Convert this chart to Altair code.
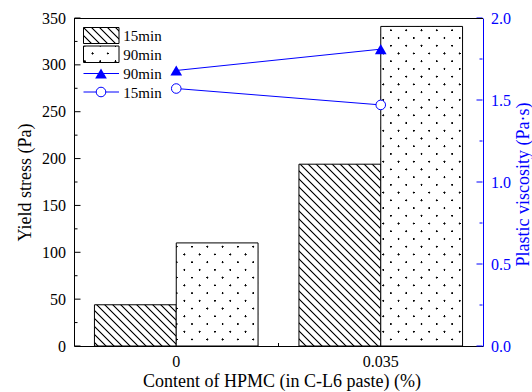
import math

import altair as alt
import pandas as pd

# ---- data -----------------------------------------------------------------
categories = ["0", "0.035"]
bar_series = ["15min", "90min"]
yield_15min = [44, 194]
yield_90min = [110, 341]
visc_90min = [1.68, 1.81]
visc_15min = [1.57, 1.47]

left_major = [0, 50, 100, 150, 200, 250, 300, 350]
left_minor = [25, 75, 125, 175, 225, 275, 325]
right_major = [0.0, 0.5, 1.0, 1.5, 2.0]
right_minor = [0.25, 0.75, 1.25, 1.75]

# ---- layout / style -------------------------------------------------------
W, H = 409, 328
PAD = {"left": 74, "top": 18, "right": 532 - 74 - W, "bottom": 392 - 18 - H}
Y_MAX, V_MAX = 350, 2.0
PAD_IN, PAD_OUT = 0.2, 0.1
FONT = "Liberation Serif"
BLUE = "#0000ff"

bars = pd.DataFrame({
    "content": categories * 2,
    "series": [bar_series[0]] * 2 + [bar_series[1]] * 2,
    "yield": yield_15min + yield_90min,
})
lines = pd.DataFrame({
    "content": categories * 2,
    "series": ["90min"] * 2 + ["15min"] * 2,
    "visc": visc_90min + visc_15min,
})


# ---- fill patterns built as striped linear gradients ----------------------
def pattern_fill(box, normal, period, anchor, profile, color_of):
    """Linear gradient (bounding-box units) that draws parallel stripes with
    the given pixel normal and period over a box of known pixel size."""
    x0, y0, w, h = box
    nx, ny = normal
    ax, ay = anchor
    corners = [(0, 0), (1, 0), (0, 1), (1, 1)]
    fvals = [(x0 + u * w - ax) * nx + (y0 + v * h - ay) * ny for u, v in corners]
    fmin, fmax = min(fvals), max(fvals)
    su, sv = corners[fvals.index(fmin)]
    span = fmax - fmin
    k = span / ((w * nx) ** 2 + (h * ny) ** 2)
    pts = []
    for m in range(math.floor(fmin / period) - 1, math.ceil(fmax / period) + 2):
        c = m * period
        pts += [(c + d, a) for d, a in profile]

    def alpha_at(fv):
        for (f1, a1), (f2, a2) in zip(pts, pts[1:]):
            if f1 <= fv <= f2:
                return a1 if f2 == f1 else a1 + (a2 - a1) * (fv - f1) / (f2 - f1)
        return 0.0

    seq = [(fmin, alpha_at(fmin))] + [p for p in pts if fmin < p[0] < fmax] + [(fmax, alpha_at(fmax))]
    stops = [{"offset": round((fv - fmin) / span, 5), "color": color_of(a)} for fv, a in seq]
    return {"gradient": "linear", "x1": su, "y1": sv,
            "x2": round(su + k * w * nx, 6), "y2": round(sv + k * h * ny, 6),
            "stops": stops}


def ink(a):
    g = round(255 * (1 - a))
    return "#%02x%02x%02x" % (g, g, g)


def veil(a):
    return "rgba(255,255,255,%.3f)" % (1 - a)


LINE_PROFILE = [(-0.9, 0.0), (-0.25, 1.0), (0.25, 1.0), (0.9, 0.0)]
DOT_PROFILE = [(-1.15, 0.0), (-0.6, 1.0), (0.6, 1.0), (1.15, 0.0)]
R2 = math.sqrt(2)
HATCH_N, HATCH_P = (1 / R2, -1 / R2), 8 / R2
v_len = math.hypot(7.65, 7.73)
DOT_NA, DOT_NB = (7.73 / v_len, -7.65 / v_len), (7.73 / v_len, 7.65 / v_len)
DOT_P = 2 * 7.65 * 7.73 / v_len
DOT_ANCHOR = (118.0, 228.7)


def hatch(box):
    return pattern_fill(box, HATCH_N, HATCH_P, (0, 0), LINE_PROFILE, ink)


def dots_base(box):
    return pattern_fill(box, DOT_NA, DOT_P, DOT_ANCHOR, DOT_PROFILE, ink)


def dots_veil(box):
    return pattern_fill(box, DOT_NB, DOT_P, DOT_ANCHOR, DOT_PROFILE, veil)


def bar_box(ci, si, value):
    step = W / (len(categories) - PAD_IN + 2 * PAD_OUT)
    start = (W - step * (len(categories) - PAD_IN)) / 2
    sub = step * (1 - PAD_IN) / len(bar_series)
    hgt = value * H / Y_MAX
    return (start + ci * step + si * sub, H - hgt, sub, hgt)


# ---- encodings ------------------------------------------------------------
AXIS_TEXT = dict(labelFont=FONT, titleFont=FONT, labelFontSize=16, titleFontSize=18,
                 titleFontWeight="normal", labelOverlap=False, ticks=False, tickSize=0,
                 titleBaseline="alphabetic", titleAlign="center")


def x_enc():
    return alt.X(
        "content:N", sort=categories,
        scale=alt.Scale(domain=categories, paddingInner=PAD_IN, paddingOuter=PAD_OUT),
        axis=alt.Axis(title="Content of HPMC (in C-L6 paste) (%)", labelAngle=0,
                      labelBaseline="alphabetic", labelPadding=20.5,
                      labelColor="black", titleColor="black", domainColor="black",
                      titleX=W / 2 + 3, titleY=40, **AXIS_TEXT),
    )


y_scale = alt.Scale(domain=[0, Y_MAX], nice=False)
v_scale = alt.Scale(domain=[0, V_MAX], nice=False)


def y_left():
    return alt.Y(
        "yield:Q", scale=y_scale,
        axis=alt.Axis(title="Yield stress (Pa)", orient="left", values=left_major,
                      labelPadding=8.5, labelColor="black", titleColor="black",
                      domainColor="black", titleAngle=270, titleX=-44, titleY=H / 2,
                      **AXIS_TEXT),
    )


def y_right():
    return alt.Y(
        "visc:Q", scale=v_scale,
        axis=alt.Axis(title="Plastic viscosity (Pa·s)", orient="right", values=right_major,
                      format=".1f", labelPadding=7.5, labelColor=BLUE, titleColor=BLUE,
                      domainColor=BLUE, titleAngle=270, titleX=45, titleY=166,
                      **AXIS_TEXT),
    )


x_off = alt.XOffset("series:N", scale=alt.Scale(domain=bar_series))

# ---- bars (left axis) -----------------------------------------------------
bar_layers = []
for si, (s, values) in enumerate(zip(bar_series, [yield_15min, yield_90min])):
    for ci, (c, v) in enumerate(zip(categories, values)):
        box = bar_box(ci, si, v)
        sel = alt.Chart(bars).transform_filter(
            f"datum.content === '{c}' && datum.series === '{s}'")
        enc = dict(x=x_enc(), xOffset=x_off, y=y_left())
        if si == 0:
            bar_layers.append(sel.mark_bar(fill=hatch(box), stroke="black",
                                           strokeWidth=1).encode(**enc))
        else:
            bar_layers.append(sel.mark_bar(fill=dots_base(box), strokeWidth=0).encode(**enc))
            bar_layers.append(sel.mark_bar(fill=dots_veil(box), stroke="black",
                                           strokeWidth=1).encode(**enc))

# inward ticks of the left axis
left_ticks = pd.DataFrame({"yield": left_major + left_minor,
                           "len": [6] * len(left_major) + [3] * len(left_minor)})
for L in (6, 3):
    bar_layers.append(
        alt.Chart(left_ticks).transform_filter(f"datum.len === {L}")
        .mark_rule(color="black", strokeWidth=1)
        .encode(y=y_left(), x=alt.value(0.5), x2=alt.value(L + 0.5))
    )
bar_group = alt.layer(*bar_layers)

# ---- viscosity lines (right axis) -----------------------------------------
TRIANGLE = "M-1,0.866L0,-0.866L1,0.866Z"
line_layers = []
for s in ["90min", "15min"]:
    line_layers.append(
        alt.Chart(lines).transform_filter(f"datum.series === '{s}'")
        .mark_line(color=BLUE, strokeWidth=1).encode(x=x_enc(), y=y_right())
    )
line_layers.append(
    alt.Chart(lines).transform_filter("datum.series === '90min'")
    .mark_point(shape=TRIANGLE, size=137, filled=True, color=BLUE, opacity=1)
    .encode(x=x_enc(), y=y_right())
)
line_layers.append(
    alt.Chart(lines).transform_filter("datum.series === '15min'")
    .mark_point(shape="circle", size=92, filled=True, fill="white", stroke=BLUE,
                strokeWidth=1, opacity=1)
    .encode(x=x_enc(), y=y_right())
)
# inward ticks of the right axis
right_ticks = pd.DataFrame({"visc": right_major + right_minor,
                            "len": [6] * len(right_major) + [3] * len(right_minor)})
for L in (6, 3):
    line_layers.append(
        alt.Chart(right_ticks).transform_filter(f"datum.len === {L}")
        .mark_rule(color=BLUE, strokeWidth=1)
        .encode(y=y_right(), x=alt.value(W - L - 0.5), x2=alt.value(W - 0.5))
    )
line_group = alt.layer(*line_layers)

# ---- frame pieces and legend ----------------------------------------------
one = pd.DataFrame({"k": [0]})
frame = [
    alt.Chart(one).mark_rule(color="black", strokeWidth=1).encode(
        x=alt.value(0), x2=alt.value(W), y=alt.value(0.5)),
    alt.Chart(one).mark_rule(color="black", strokeWidth=1).encode(
        x=alt.value(W / 2), y=alt.value(H - 3), y2=alt.value(H)),
]

hatch_box = (9.5, 9.5, 35.5, 16.0)
dots_box = (9.5, 28.0, 35.5, 16.5)


def rect_enc(b):
    return dict(x=alt.value(b[0]), x2=alt.value(b[0] + b[2]),
                y=alt.value(b[1]), y2=alt.value(b[1] + b[3]))


legend = [
    alt.Chart(one).mark_rect(fill=hatch(hatch_box), stroke="black", strokeWidth=1)
    .encode(**rect_enc(hatch_box)),
    alt.Chart(one).mark_rect(fill=dots_base(dots_box), strokeWidth=0)
    .encode(**rect_enc(dots_box)),
    alt.Chart(one).mark_rect(fill=dots_veil(dots_box), stroke="black", strokeWidth=1)
    .encode(**rect_enc(dots_box)),
    alt.Chart(one).mark_rule(color=BLUE, strokeWidth=1).encode(
        x=alt.value(9.5), x2=alt.value(45), y=alt.value(55.5)),
    alt.Chart(one).mark_rule(color=BLUE, strokeWidth=1).encode(
        x=alt.value(9.5), x2=alt.value(45), y=alt.value(74)),
    alt.Chart(one).mark_point(shape=TRIANGLE, size=137, filled=True, color=BLUE,
                              opacity=1).encode(x=alt.value(27), y=alt.value(55.5)),
    alt.Chart(one).mark_point(shape="circle", size=92, filled=True, fill="white",
                              stroke=BLUE, strokeWidth=1, opacity=1).encode(
        x=alt.value(27), y=alt.value(74)),
]
legend_text = pd.DataFrame({
    "label": bar_series + ["90min", "15min"],
    "ty": [22.7, 42.0, 61.3, 80.3],
})
for _, row in legend_text.iterrows():
    legend.append(
        alt.Chart(legend_text).transform_filter(f"datum.ty === {row['ty']}")
        .mark_text(font=FONT, fontSize=15, align="left", baseline="alphabetic",
                   color="black")
        .encode(text="label:N", x=alt.value(49.3), y=alt.value(row["ty"]))
    )

chart = (
    alt.layer(bar_group, line_group, *frame, *legend)
    .resolve_scale(y="independent")
    .properties(width=W, height=H, padding=PAD, autosize=alt.AutoSizeParams(type="none"),
                background="white")
    .configure_view(stroke=None)
    .configure_axis(labelFont=FONT, titleFont=FONT, grid=False)
)

chart.save("out.html", embed_options={"renderer": "svg", "actions": False})
